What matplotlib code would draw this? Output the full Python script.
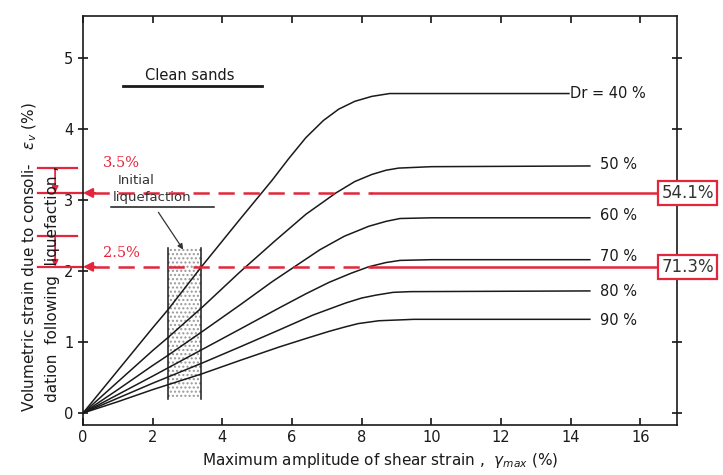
import numpy as np
import matplotlib.pyplot as plt

# Kurven gelesen aus dem Diagramm (Dr = relative Dichte)
x_40 = [0, 1, 2, 2.43, 3.4, 4.49, 5.43, 5.9, 6.4, 6.9, 7.34, 7.8, 8.29, 8.8, 9.5, 13.95]
y_40 = [0, 0.6, 1.2, 1.45, 2.06, 2.72, 3.28, 3.58, 3.88, 4.12, 4.28, 4.39, 4.46, 4.5, 4.5, 4.5]
x_50 = [0, 1, 2, 2.43, 3.4, 4.49, 5.5, 6.4, 7.26, 7.8, 8.29, 8.7, 9.06, 10, 14.55]
y_50 = [0, 0.44, 0.88, 1.06, 1.48, 1.98, 2.42, 2.8, 3.1, 3.26, 3.36, 3.42, 3.45, 3.47, 3.48]
x_60 = [0, 1, 2, 2.43, 3.4, 4.5, 5.43, 6.1, 6.8, 7.5, 8.2, 8.7, 9.1, 10, 14.55]
y_60 = [0, 0.33, 0.67, 0.81, 1.14, 1.52, 1.85, 2.07, 2.3, 2.49, 2.63, 2.7, 2.74, 2.75, 2.75]
x_70 = [0, 1, 2, 3.4, 4.5, 5.63, 6.4, 7.06, 7.7, 8.2, 8.7, 9.1, 10, 14.55]
y_70 = [0, 0.26, 0.52, 0.89, 1.18, 1.48, 1.68, 1.84, 1.97, 2.06, 2.12, 2.15, 2.16, 2.16]
x_80 = [0, 1, 2, 3.4, 4.5, 5.63, 6.6, 7.54, 8.0, 8.4, 8.9, 9.4, 14.55]
y_80 = [0, 0.21, 0.42, 0.7, 0.93, 1.17, 1.38, 1.55, 1.62, 1.66, 1.7, 1.71, 1.72]
x_90 = [0, 1, 2, 3.4, 4.5, 5.63, 6.4, 7.06, 7.5, 7.9, 8.49, 9.5, 14.55]
y_90 = [0, 0.16, 0.33, 0.55, 0.74, 0.93, 1.05, 1.15, 1.21, 1.26, 1.3, 1.32, 1.32]

curves = [(x_40, y_40), (x_50, y_50), (x_60, y_60), (x_70, y_70), (x_80, y_80), (x_90, y_90)]
labels = ["Dr = 40 %", "50 %", "60 %", "70 %", "80 %", "90 %"]
label_y = [4.5, 3.5, 2.78, 2.2, 1.71, 1.31]

# Bereich "initial liquefaction"
liq_x = [2.43, 3.4]
liq_y = [0.2, 2.32]

# rote Markierungen
mark_y = [3.1, 2.06]
mark_top = [3.45, 2.5]
mark_text = ["3.5%", "2.5%"]
box_text = ["54.1%", "71.3%"]

red = '#e3263c'

fig = plt.figure(figsize=(7.23, 4.75), dpi=100)
ax = fig.add_axes([0.1148, 0.105, 0.8215, 0.861])

for (cx, cy), lab, ly in zip(curves, labels, label_y):
    ax.plot(cx, cy, color='#1a1a1a', lw=1.1)
    xl = 13.97 if lab.startswith("Dr") else 14.85
    ax.text(xl, ly, lab, fontsize=10.5, va='center', ha='left', color='#1a1a1a')

# gepunktetes Rechteck
ax.fill_betweenx(liq_y, liq_x[0], liq_x[1], facecolor='none', edgecolor='#999999',
                 hatch='....', lw=0)
for xv in liq_x:
    ax.plot([xv, xv], liq_y, color='#1a1a1a', lw=1.1)

ax.text(3.06, 4.76, "Clean sands", fontsize=10.5, ha='center', va='center', color='#1a1a1a')
ax.plot([1.15, 5.13], [4.6, 4.6], color='#1a1a1a', lw=2)
ax.text(1.0, 3.27, "Initial", fontsize=9.5, ha='left', va='center', color='#333333')
ax.text(0.86, 3.03, "liquefaction", fontsize=9.5, ha='left', va='center', color='#333333')
ax.plot([0.8, 3.75], [2.9, 2.9], color='#1a1a1a', lw=1.1)
ax.annotate('', xy=(2.92, 2.27), xytext=(2.12, 2.86),
            arrowprops=dict(arrowstyle='-|>', color='#333333', lw=0.9, mutation_scale=8))

# rote Linien und Kästchen
for my, mt, tt, bt in zip(mark_y, mark_top, mark_text, box_text):
    ax.plot([0.3, 8.3], [my, my], color=red, lw=1.8, ls=(0, (6.5, 3.5)))
    ax.plot([8.3, 16.5], [my, my], color=red, lw=1.8, clip_on=False)
    ax.annotate('', xy=(0.0, my), xytext=(0.35, my),
                arrowprops=dict(arrowstyle='-|>', color=red, lw=1.5, mutation_scale=14,
                                shrinkA=0, shrinkB=0))
    ax.plot([-1.29, 0.0], [my, my], color=red, lw=1.6, clip_on=False)
    ax.plot([-1.29, -0.17], [mt, mt], color=red, lw=1.6, clip_on=False)
    ax.annotate('', xy=(-0.8, my), xytext=(-0.8, mt), annotation_clip=False,
                arrowprops=dict(arrowstyle='-|>', color=red, lw=1.3, mutation_scale=9,
                                shrinkA=0, shrinkB=0))
    ax.text(0.57, my + 0.42 if my > 3 else my + 0.19, tt, color=red, fontsize=10.5,
            family='DejaVu Serif', ha='left', va='center')
    ax.text(16.6, my, bt, fontsize=12, color='#333333', ha='left', va='center',
            clip_on=False,
            bbox=dict(boxstyle='square,pad=0.18', fc='white', ec=red, lw=1.6))

ax.set_xlim(0, 17.05)
ax.set_ylim(-0.17, 5.59)
ax.set_xticks(range(0, 17, 2))
ax.set_yticks(range(0, 6))
ax.tick_params(axis='both', direction='in', length=5, width=1.1, labelsize=10.5,
               top=True, right=True, labelcolor='#1a1a1a')
ax.tick_params(axis='y', direction='inout', length=7)
for sp in ax.spines.values():
    sp.set_linewidth(1.2)
    sp.set_color('#1a1a1a')

ax.set_xlabel(r"Maximum amplitude of shear strain ,  $\gamma_{max}$ (%)", fontsize=11,
              color='#1a1a1a', labelpad=4)
fig.text(30 / 723, 0.133, r"Volumetric strain due to consoli-   $\varepsilon_v$ (%)",
         rotation=90, fontsize=11, ha='center', va='bottom', color='#1a1a1a')
fig.text(53 / 723, 0.154, "dation  following  liquefaction ,",
         rotation=90, fontsize=11, ha='center', va='bottom', color='#1a1a1a')

fig.savefig("out.png", dpi=100)
